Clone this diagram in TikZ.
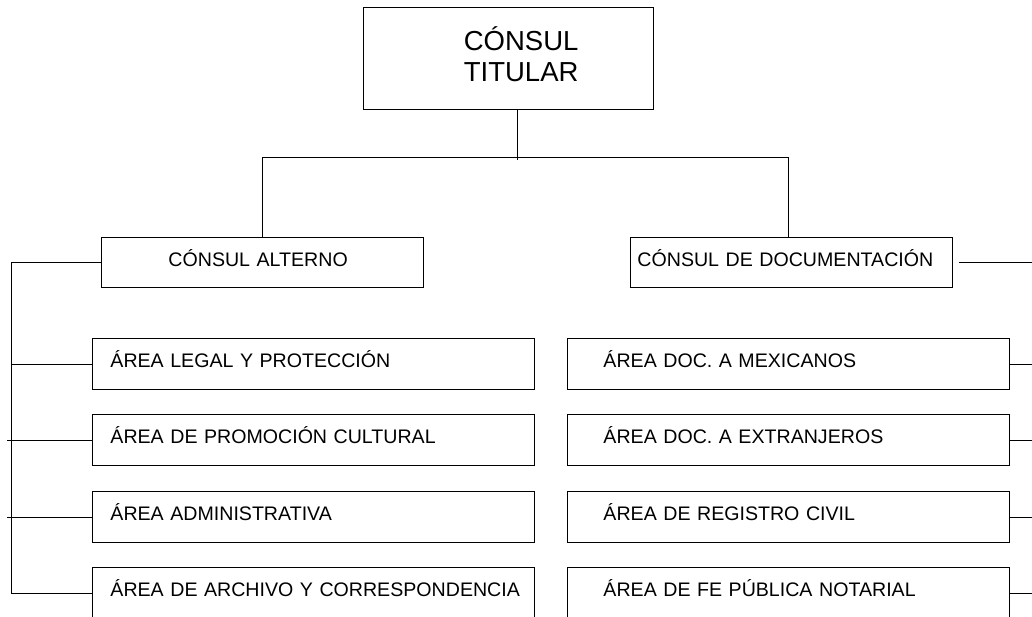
\documentclass[tikz,border=0pt]{standalone}
\usepackage{fontspec}
\setmainfont{Liberation Sans}

\tikzset{
  caja/.style={draw, line width=0.9pt, anchor=north west, inner ysep=0pt, align=left,
    font=\fontsize{19.6}{23}\selectfont, text height=14pt, text depth=6pt},
  cajaIzq/.style={caja, inner xsep=18pt, text width=406pt, minimum height=51pt},
  cajaDer/.style={caja, inner xsep=36pt, text width=370pt, minimum height=51pt},
  linea/.style={line width=0.9pt},
}

\begin{document}
\begin{tikzpicture}[x=1pt,y=-1pt]
  \useasboundingbox (0,0) rectangle (1032,616);
  % jefatura
  \node[caja, align=right, inner xsep=75pt, text width=140pt, minimum height=102pt,
    font=\fontsize{27.5}{31}\selectfont, text height=25pt, text depth=41pt] (titular) at (363,7) {CÓNSUL\\TITULAR};
  \node[caja, inner xsep=67pt, text width=188pt, minimum height=50pt] (alterno) at (101,237) {CÓNSUL ALTERNO};
  \node[caja, inner xsep=7pt, text width=308pt, minimum height=50pt] (documentacion) at (630,237) {CÓNSUL DE DOCUMENTACIÓN};
  % areas
  \node[cajaIzq] (legal) at (92,338) {ÁREA LEGAL Y PROTECCIÓN};
  \node[cajaIzq] (promocion) at (92,414) {ÁREA DE PROMOCIÓN CULTURAL};
  \node[cajaIzq] (administrativa) at (92,491) {ÁREA ADMINISTRATIVA};
  \node[cajaIzq] (archivo) at (92,567) {\mbox{ÁREA DE ARCHIVO Y CORRESPONDENCIA}};
  \node[cajaDer] (mexicanos) at (567,338) {ÁREA DOC. A MEXICANOS};
  \node[cajaDer] (extranjeros) at (567,414) {ÁREA DOC. A EXTRANJEROS};
  \node[cajaDer] (registro) at (567,491) {ÁREA DE REGISTRO CIVIL};
  \node[cajaDer] (notarial) at (567,567) {ÁREA DE FE PÚBLICA NOTARIAL};
  % conectores
  \coordinate (bus) at (517,157);
  \coordinate (busIzq) at (262,157);
  \coordinate (busDer) at (788,157);
  \coordinate (espina) at (11,0);
  \coordinate (espinaExt) at (7,0);
  \coordinate (borde) at (1032,0);
  \draw[linea] (titular.south -| bus) -- ([yshift=-3pt]bus);
  \draw[linea] (busIzq) -- (busDer);
  \draw[linea] (busIzq) -- (busIzq |- alterno.north);
  \draw[linea] (busDer) -- (busDer |- documentacion.north);
  \draw[linea] (alterno.west -| espina) -- (archivo.west -| espina);
  \foreach \n in {alterno, legal, archivo}
    \draw[linea] (\n.west -| espina) -- (\n.west);
  \foreach \n in {promocion, administrativa}
    \draw[linea] (\n.west -| espinaExt) -- (\n.west);
  \draw[linea] ([xshift=6pt]documentacion.east) -- (documentacion.east -| borde);
  \foreach \n in {mexicanos, extranjeros, registro, notarial}
    \draw[linea] (\n.east) -- (\n.east -| borde);
  %\draw[linea] (documentacion.east -| borde) -- (notarial.east -| borde);
\end{tikzpicture}
\end{document}
